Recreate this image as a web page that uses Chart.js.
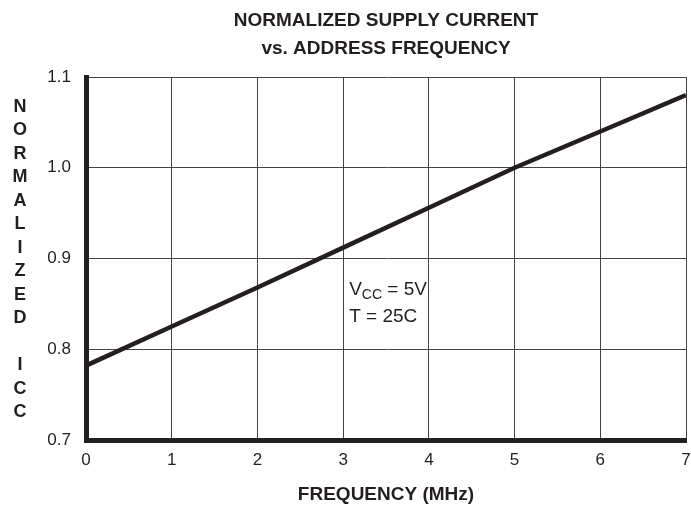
<!DOCTYPE html>
<html>
<head>
<meta charset="utf-8">
<script src="https://cdn.jsdelivr.net/npm/chart.js@4.4.1/dist/chart.umd.min.js"></script>
<style>
  html, body { margin: 0; padding: 0; background: #fff; }
  #wrap { width: 691px; height: 506px; }
</style>
</head>
<body>
<div id="wrap"><canvas id="chart" width="691" height="506"></canvas></div>
<script>
// 周波数 (MHz) と正規化電流
var freqMHz = [0, 1, 2, 3, 4, 5, 6, 7];
var normIcc = [0.782, 0.825, 0.868, 0.912, 0.956, 1.0, 1.04, 1.08];
var yTicks = [0.7, 0.8, 0.9, 1.0, 1.1];
var titleLines = ['NORMALIZED SUPPLY CURRENT', 'vs. ADDRESS FREQUENCY'];
var yTitle = 'NORMALIZED ICC';
var xTitle = 'FREQUENCY (MHz)';

var ink = '#231f20';
var fontFam = '"Liberation Sans", Arial, Helvetica, sans-serif';

var points = freqMHz.map(function (f, i) { return { x: f, y: normIcc[i] }; });

// タイトル・縦書きラベル・注記
var decor = {
    id: 'decor',
    afterDraw: function (chart) {
        var ctx = chart.ctx;
        var area = chart.chartArea;
        var cx = (area.left + area.right) / 2;
        ctx.save();
        ctx.fillStyle = ink;
        ctx.textAlign = 'center';
        ctx.textBaseline = 'middle';
        ctx.font = 'bold 19px ' + fontFam;
        ctx.fillText(titleLines[0], cx, 21);
        ctx.fillText(titleLines[1], cx, 49);

        // 縦に並べた文字
        ctx.font = 'bold 18px ' + fontFam;
        for (var i = 0; i < yTitle.length; i++) {
            ctx.fillText(yTitle[i], 20, 107 + i * 23.5);
        }

        // 注記 Vcc = 5V / T = 25C
        var xs = chart.scales.x, ys = chart.scales.y;
        var tx = xs.getPixelForValue(3.07);
        var ty1 = ys.getPixelForValue(0.86);
        var ty2 = ys.getPixelForValue(0.83);
        ctx.textAlign = 'left';
        ctx.textBaseline = 'alphabetic';
        ctx.font = '19px ' + fontFam;
        ctx.fillText('V', tx, ty1);
        var w = ctx.measureText('V').width;
        ctx.font = '14px ' + fontFam;
        ctx.fillText('CC', tx + w, ty1 + 4);
        var w2 = ctx.measureText('CC').width;
        ctx.font = '19px ' + fontFam;
        ctx.fillText(' = 5V', tx + w + w2, ty1);
        ctx.fillText('T = 25C', tx, ty2);
        ctx.restore();
    }
};

var chart = new Chart(document.getElementById('chart'), {
    type: 'line',
    data: {
        datasets: [{
            data: points,
            borderColor: ink,
            borderWidth: 4.5,
            pointRadius: 0,
            tension: 0,
            fill: false
        }]
    },
    options: {
        responsive: false,
        animation: false,
        layout: { padding: { top: 77, right: 5, left: 0, bottom: 0 } },
        plugins: {
            legend: { display: false },
            title: { display: false },
            tooltip: { enabled: false }
        },
        scales: {
            x: {
                type: 'linear',
                min: 0,
                max: 7,
                afterFit: function (s) {
                    s.height = 66;
                    s.paddingLeft = 0;
                    s.paddingRight = 0;
                },
                border: { display: true, width: 5, color: ink },
                grid: { color: '#444', lineWidth: 1, drawTicks: false },
                ticks: {
                    stepSize: 1,
                    padding: 10,
                    color: ink,
                    font: { family: fontFam, size: 17 }
                },
                title: {
                    display: true,
                    text: xTitle,
                    color: ink,
                    padding: { top: 4, bottom: 0 },
                    font: { family: fontFam, size: 19, weight: 'bold' }
                }
            },
            y: {
                type: 'linear',
                min: 0.7,
                max: 1.1,
                afterFit: function (s) {
                    s.width = 86;
                    s.paddingTop = 0;
                    s.paddingBottom = 0;
                },
                afterBuildTicks: function (s) {
                    s.ticks = yTicks.map(function (v) { return { value: v }; });
                },
                border: { display: true, width: 5, color: ink },
                grid: { color: '#444', lineWidth: 1, drawTicks: false },
                ticks: {
                    padding: 15,
                    color: ink,
                    font: { family: fontFam, size: 17 },
                    callback: function (v) { return v.toFixed(1); }
                }
            }
        }
    },
    plugins: [decor]
});
</script>
</body>
</html>
